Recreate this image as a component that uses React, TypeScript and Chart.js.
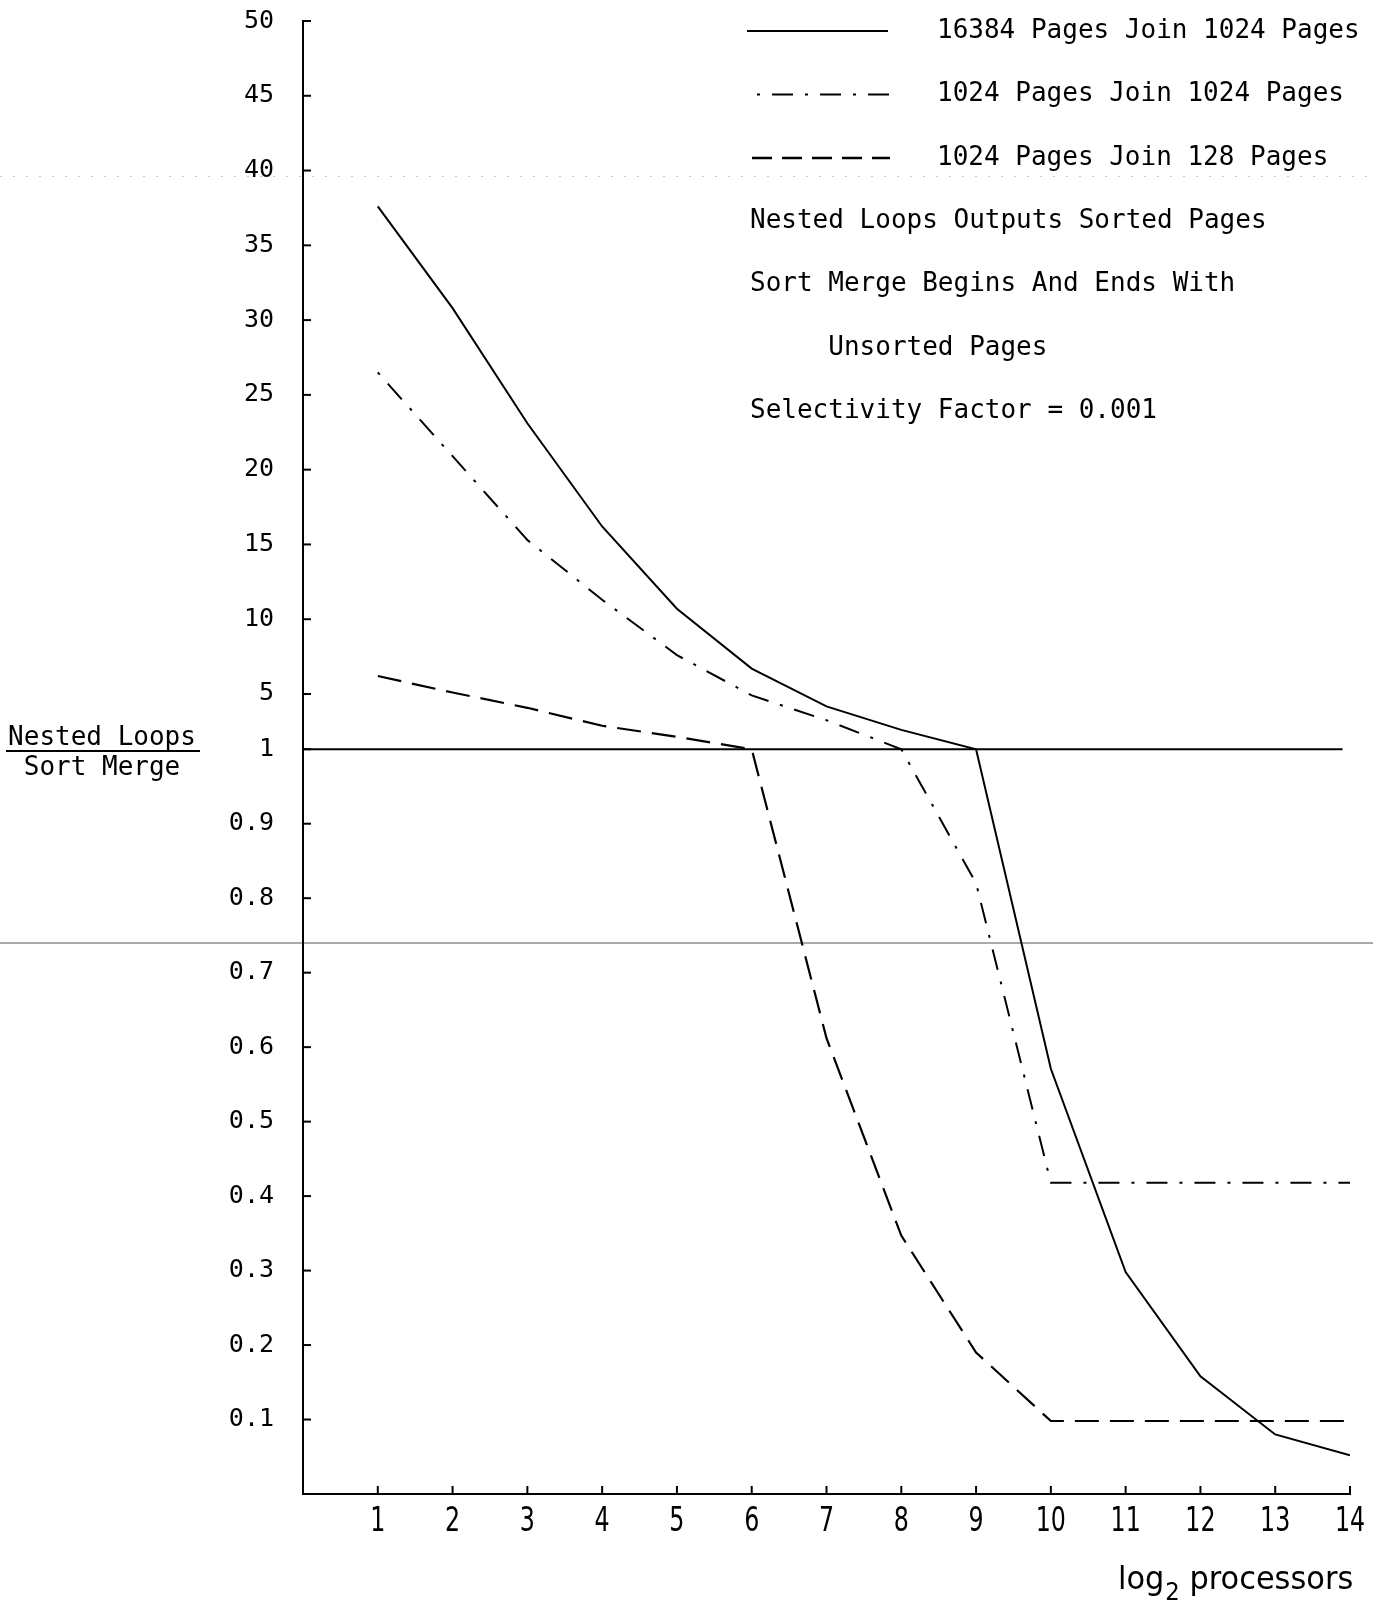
import { useEffect, useRef } from 'react';
import { Chart, registerables, LinearScale } from 'chart.js';

// ---- data ----
const X_VALUES = [1, 2, 3, 4, 5, 6, 7, 8, 9, 10, 11, 12, 13, 14];
const X_TICKS = [1, 2, 3, 4, 5, 6, 7, 8, 9, 10, 11, 12, 13, 14];
const Y_TICKS = [0.1, 0.2, 0.3, 0.4, 0.5, 0.6, 0.7, 0.8, 0.9, 1, 5, 10, 15, 20, 25, 30, 35, 40, 45, 50];

const JOIN_16384_1024 = [37.6, 30.8, 23.1, 16.2, 10.7, 6.7, 4.1, 2.4, 1.0, 0.571, 0.298, 0.158, 0.08, 0.052];
const JOIN_1024_1024 = [26.5, 20.9, 15.3, 11.3, 7.6, 4.9, 3.1, 1.0, 0.82, 0.418, 0.418, 0.418, 0.418, 0.418];
const JOIN_1024_128 = [6.2, 5.1, 4.0, 2.7, 1.9, 1.0, 0.612, 0.347, 0.19, 0.098, 0.098, 0.098, 0.098, 0.098];
const REFERENCE_X = [0, 13.9];
const REFERENCE_Y = [1, 1];

const SERIES_LABELS = [
  '16384 Pages Join 1024 Pages',
  '1024 Pages Join 1024 Pages',
  '1024 Pages Join 128 Pages',
];
const NOTES = [
  'Nested Loops Outputs Sorted Pages',
  'Sort Merge Begins And Ends With',
  '     Unsorted Pages',
  'Selectivity Factor = 0.001',
];
const Y_TITLE_TOP = 'Nested Loops';
const Y_TITLE_BOTTOM = 'Sort Merge';
const X_TITLE_MAIN = 'log';
const X_TITLE_SUB = '2';
const X_TITLE_REST = ' processors';

// ---- piecewise axis: 0..1 linear, 1..5 and 5..50 compressed ----
const K1 = 13.8 / 744;
const K2 = 14.94 / 744;
const Y_MIN = 0;
const Y_MAX = 50;
const T5 = 1 + 4 * K1;
const tf = (v: number) => (v <= 1 ? v : v <= 5 ? 1 + (v - 1) * K1 : T5 + (v - 5) * K2);
const itf = (t: number) => (t <= 1 ? t : t <= T5 ? 1 + (t - 1) / K1 : 5 + (t - T5) / K2);

class PiecewiseScale extends LinearScale {
  static id = 'piecewise';
  _tMin = 0;
  _tMax = 1;
  determineDataLimits() {
    const o: any = this.options;
    this.min = o.min;
    this.max = o.max;
  }
  buildTicks() {
    return Y_TICKS.map((v) => ({ value: v }));
  }
  configure() {
    super.configure();
    this._tMin = tf(this.min);
    this._tMax = tf(this.max);
  }
  getPixelForValue(value: number) {
    const d = (tf(value) - this._tMin) / (this._tMax - this._tMin);
    return this.getPixelForDecimal(d);
  }
  getValueForPixel(pixel: number) {
    return itf(this._tMin + this.getDecimalForPixel(pixel) * (this._tMax - this._tMin));
  }
}

Chart.register(...registerables);
Chart.register(PiecewiseScale as any);

const MONO = '"DejaVu Sans Mono", "Liberation Mono", monospace';
const SANS = '"DejaVu Sans", "Liberation Sans", sans-serif';
const DASHDOT = [3, 12, 21, 12];
const DASHED = [24, 11];

const decorations = {
  id: 'decorations',
  afterDraw(chart: any) {
    const ctx: CanvasRenderingContext2D = chart.ctx;
    const xs = chart.scales.x;
    const ys = chart.scales.y;
    const area = chart.chartArea;
    ctx.save();
    ctx.strokeStyle = '#000';
    ctx.fillStyle = '#000';

    // inner tick marks on y axis
    ctx.lineWidth = 2;
    ys.ticks.forEach((t: any) => {
      const py = ys.getPixelForValue(t.value);
      ctx.beginPath();
      ctx.moveTo(area.left, py);
      ctx.lineTo(area.left + 8, py);
      ctx.stroke();
    });
    // inner tick marks on x axis
    X_TICKS.forEach((v) => {
      const px = xs.getPixelForValue(v);
      ctx.beginPath();
      ctx.moveTo(px, area.bottom);
      ctx.lineTo(px, area.bottom - 8);
      ctx.stroke();
    });

    // x tick labels (condensed)
    ctx.textAlign = 'center';
    ctx.textBaseline = 'alphabetic';
    ctx.font = `33px ${SANS}`;
    X_TICKS.forEach((v) => {
      const px = xs.getPixelForValue(v);
      ctx.save();
      ctx.translate(px, area.bottom + 37);
      ctx.scale(0.72, 1);
      ctx.fillText(String(v), 0, 0);
      ctx.restore();
    });

    // x title
    ctx.save();
    ctx.textAlign = 'left';
    ctx.translate(1118, 1589);
    ctx.scale(0.95, 1);
    ctx.font = `32px ${SANS}`;
    ctx.fillText(X_TITLE_MAIN, 0, 0);
    let w = ctx.measureText(X_TITLE_MAIN).width;
    ctx.font = `24px ${SANS}`;
    ctx.fillText(X_TITLE_SUB, w + 1, 11);
    w += ctx.measureText(X_TITLE_SUB).width + 1;
    ctx.font = `32px ${SANS}`;
    ctx.fillText(X_TITLE_REST, w, 0);
    ctx.restore();

    // y title as fraction
    ctx.font = `26px ${MONO}`;
    ctx.textAlign = 'center';
    ctx.fillText(Y_TITLE_TOP, 102, 745);
    ctx.fillText(Y_TITLE_BOTTOM, 102, 775);
    ctx.lineWidth = 2;
    ctx.beginPath();
    ctx.moveTo(6, 751);
    ctx.lineTo(200, 751);
    ctx.stroke();

    // legend
    const rows = [31, 94.5, 158, 221, 284.5, 348, 411];
    const samples = [
      { x0: 747, x1: 888, dash: [] as number[], w: 2.2 },
      { x0: 757, x1: 890, dash: DASHDOT, w: 2 },
      { x0: 752, x1: 890, dash: [20, 10], w: 2.4 },
    ];
    samples.forEach((s, i) => {
      ctx.save();
      ctx.lineWidth = s.w;
      ctx.setLineDash(s.dash);
      ctx.beginPath();
      ctx.moveTo(s.x0, rows[i]);
      ctx.lineTo(s.x1, rows[i]);
      ctx.stroke();
      ctx.restore();
    });
    ctx.font = `26px ${MONO}`;
    ctx.textAlign = 'left';
    ctx.textBaseline = 'middle';
    SERIES_LABELS.forEach((t, i) => ctx.fillText(t, 937, rows[i]));
    NOTES.forEach((t, i) => ctx.fillText(t, 750, rows[i + 3]));

    // scan artefacts
    ctx.strokeStyle = 'rgba(0,0,0,0.22)';
    ctx.lineWidth = 1;
    ctx.setLineDash([2, 11]);
    ctx.beginPath();
    ctx.moveTo(0, 176.5);
    ctx.lineTo(chart.width, 176.5);
    ctx.stroke();
    ctx.setLineDash([]);
    ctx.strokeStyle = 'rgba(0,0,0,0.45)';
    ctx.lineWidth = 1.5;
    ctx.beginPath();
    ctx.moveTo(0, 943);
    ctx.lineTo(chart.width, 943);
    ctx.stroke();
    ctx.restore();
  },
};

export default function App() {
  const ref = useRef<HTMLCanvasElement>(null);
  useEffect(() => {
    if (!ref.current) return;
    const pts = (arr: number[]) => X_VALUES.map((x, i) => ({ x, y: arr[i] }));
    const chart = new Chart(ref.current, {
      type: 'line',
      data: {
        datasets: [
          {
            label: 'reference',
            data: REFERENCE_X.map((x, i) => ({ x, y: REFERENCE_Y[i] })),
            borderColor: '#000',
            borderWidth: 2.2,
            pointRadius: 0,
          },
          {
            label: SERIES_LABELS[0],
            data: pts(JOIN_16384_1024),
            borderColor: '#000',
            borderWidth: 2,
            pointRadius: 0,
          },
          {
            label: SERIES_LABELS[1],
            data: pts(JOIN_1024_1024),
            borderColor: '#000',
            borderWidth: 2,
            borderDash: DASHDOT,
            pointRadius: 0,
          },
          {
            label: SERIES_LABELS[2],
            data: pts(JOIN_1024_128),
            borderColor: '#000',
            borderWidth: 2.2,
            borderDash: DASHED,
            pointRadius: 0,
          },
        ],
      },
      options: {
        animation: false,
        responsive: false,
        devicePixelRatio: 1,
        layout: { padding: { top: 21, right: 23, left: 0, bottom: 0 } },
        plugins: { legend: { display: false }, tooltip: { enabled: false } },
        scales: {
          x: {
            type: 'linear',
            min: 0,
            max: 14,
            grid: { display: false, drawTicks: false },
            border: { display: true, color: '#000', width: 2 },
            ticks: { display: false },
            afterFit: (s: any) => {
              s.height = 110;
              s.paddingLeft = 0;
              s.paddingRight = 0;
            },
          },
          y: {
            type: 'piecewise' as any,
            min: Y_MIN,
            max: Y_MAX,
            grid: { display: false, drawTicks: false },
            border: { display: true, color: '#000', width: 2 },
            ticks: {
              autoSkip: false,
              padding: 29,
              color: '#000',
              font: { family: MONO, size: 25 },
              callback: (v: any) => String(v),
            },
            afterFit: (s: any) => {
              s.width = 303;
              s.paddingTop = 0;
              s.paddingBottom = 0;
            },
          },
        },
      } as any,
      plugins: [decorations],
    });
    return () => chart.destroy();
  }, []);
  return (
    <div style={{ position: 'absolute', left: 0, top: 0, width: 1373, height: 1604, background: '#fff' }}>
      <canvas ref={ref} width={1373} height={1604} />
    </div>
  );
}
